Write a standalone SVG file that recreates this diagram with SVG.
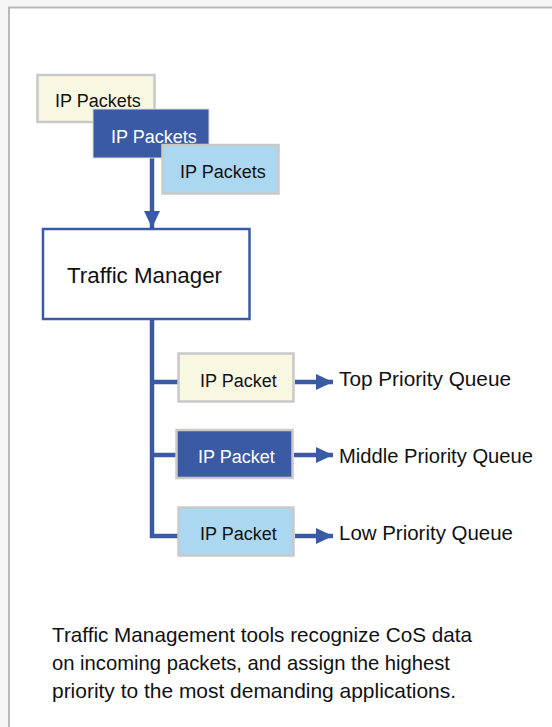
<svg xmlns="http://www.w3.org/2000/svg" width="552" height="727" viewBox="0 0 552 727">
<defs>
<style>
.t{font-family:"Liberation Sans",Arial,sans-serif;fill:#111}
.w{fill:#fff}
.cream{fill:#f7f7e2;stroke:#c9c9c9;stroke-width:2.5}
.dark{fill:#3a5ba3;stroke:#c9c9c9;stroke-width:2.5}
.light{fill:#acd7f0;stroke:#c9c9c9;stroke-width:2.5}
.conn{stroke:#3a5ba3;stroke-width:4.5;fill:none}
</style>
<marker id="ah" markerUnits="userSpaceOnUse" markerWidth="18" markerHeight="18" refX="17" refY="9" orient="auto">
<path d="M0,1 L17,9 L0,17 Z" fill="#3a5ba3"/>
</marker>
</defs>
<rect x="0" y="0" width="552" height="727" fill="#f6f6f6"/>
<rect x="9" y="7.5" width="560" height="740" fill="#fff" stroke="#b9b9b9" stroke-width="2"/>

<g id="connectors">
<line class="conn" x1="152" y1="158" x2="152" y2="228" marker-end="url(#ah)"/>
<polyline class="conn" points="152,319 152,538"/>
<line class="conn" x1="150" y1="382" x2="178" y2="382"/>
<line class="conn" x1="150" y1="455" x2="176" y2="455"/>
<line class="conn" x1="150" y1="536" x2="178" y2="536"/>
<line class="conn" x1="295" y1="382" x2="333" y2="382" marker-end="url(#ah)"/>
<line class="conn" x1="294" y1="455" x2="333" y2="455" marker-end="url(#ah)"/>
<line class="conn" x1="295" y1="536" x2="333" y2="536" marker-end="url(#ah)"/>
</g>

<g id="packets1">
<rect class="cream" x="37.5" y="75" width="117" height="47"/>
<text class="t" x="55" y="107" font-size="18">IP Packets</text>
</g>
<g id="packets2">
<rect x="93" y="109" width="116" height="49" fill="#3a5ba3" stroke="#dcdcdc" stroke-width="1"/>
<text class="t w" x="111" y="143" font-size="18">IP Packets</text>
</g>
<g id="packets3">
<rect class="light" x="162.5" y="145" width="116" height="48.5"/>
<text class="t" x="180" y="178" font-size="18">IP Packets</text>
</g>

<g id="traffic-manager">
<rect x="43" y="229" width="206.5" height="90" fill="#fff" stroke="#3a5ba3" stroke-width="2.5"/>
<text class="t" x="67" y="283" font-size="22.4" textLength="155" lengthAdjust="spacingAndGlyphs">Traffic Manager</text>
</g>

<g id="top-packet">
<rect class="cream" x="178.5" y="353.5" width="115" height="48"/>
<text class="t" x="200" y="387" font-size="18">IP Packet</text>
</g>
<g id="middle-packet">
<rect class="dark" x="176.5" y="430" width="116" height="48"/>
<text class="t w" x="198" y="463" font-size="18">IP Packet</text>
</g>
<g id="low-packet">
<rect class="light" x="178.5" y="507.5" width="115" height="48"/>
<text class="t" x="200" y="540" font-size="18">IP Packet</text>
</g>

<g id="labels">
<text class="t" x="339" y="386" font-size="20" textLength="172" lengthAdjust="spacingAndGlyphs">Top Priority Queue</text>
<text class="t" x="339" y="463" font-size="20" textLength="194" lengthAdjust="spacingAndGlyphs">Middle Priority Queue</text>
<text class="t" x="339" y="540" font-size="20" textLength="174" lengthAdjust="spacingAndGlyphs">Low Priority Queue</text>
</g>

<g id="caption">
<text class="t" x="52" y="642" font-size="20.3" textLength="420" lengthAdjust="spacingAndGlyphs">Traffic Management tools recognize CoS data</text>
<text class="t" x="52" y="670" font-size="20.3" textLength="398" lengthAdjust="spacingAndGlyphs">on incoming packets, and assign the highest</text>
<text class="t" x="52" y="698" font-size="20.3" textLength="404" lengthAdjust="spacingAndGlyphs">priority to the most demanding applications.</text>
</g>
</svg>
